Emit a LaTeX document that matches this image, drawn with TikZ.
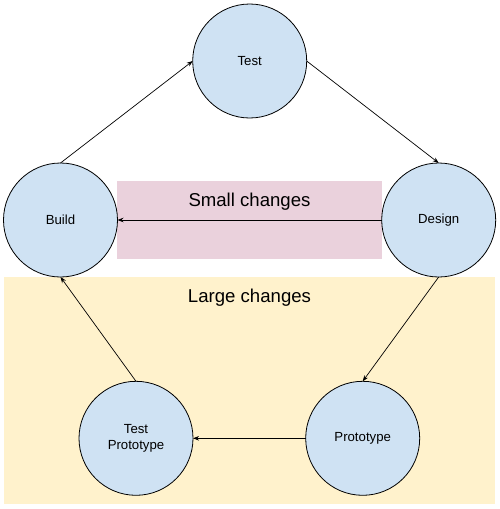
\documentclass[tikz,border=0pt]{standalone}
\usepackage{fontspec}
\setmainfont{Liberation Sans}
\usetikzlibrary{arrows.meta}
\definecolor{cblue}{HTML}{CFE2F3}
\definecolor{cpink}{HTML}{EAD1DC}
\definecolor{cyellow}{HTML}{FFF2CC}
\begin{document}
\begin{tikzpicture}[x=1pt,y=-1pt,
  stage/.style={circle,draw=black,line width=0.8pt,fill=cblue,minimum size=114pt,inner sep=0pt,outer sep=0pt,align=center,font=\fontsize{13.2}{16}\selectfont},
  conn/.style={line width=0.7pt,-{Stealth[length=6pt,width=4.5pt]}},
  biglabel/.style={font=\fontsize{18.6}{21}\selectfont,inner sep=0pt}]
\useasboundingbox (0,0) rectangle (499,509);
\fill[cyellow] (4,277) rectangle (495,504);
\fill[cpink] (117,181) rectangle (381.5,258.5);
\node[biglabel] (small) at (249.5,202) {Small changes};
\node[biglabel] (large) at (249.5,298) {Large changes};
\node[stage] (test) at (249.7,61) {Test};
\node[stage] (build) at (60.5,220) {Build};
\node[stage] (design) at (438.7,220) {Design};
\node[stage] (tproto) at (136,438.3) {Test\\Prototype};
\node[stage] (proto) at (362.7,438.3) {Prototype};
\draw[conn] (build.north) -- (test.west);
\draw[conn] (test.east) -- (design.north);
\draw[conn] (design.west) -- (build.east);
\draw[conn] (design.south) -- (proto.north);
\draw[conn] (proto.west) -- (tproto.east);
\draw[conn] (tproto.north) -- (build.south);
\end{tikzpicture}
\end{document}
